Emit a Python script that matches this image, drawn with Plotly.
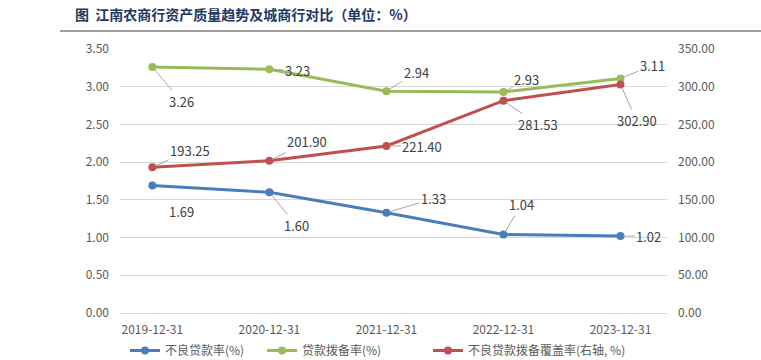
import plotly.graph_objects as go

categories = ["2019-12-31", "2020-12-31", "2021-12-31", "2022-12-31", "2023-12-31"]
npl_ratio = [1.69, 1.60, 1.33, 1.04, 1.02]
provision_ratio = [3.26, 3.23, 2.94, 2.93, 3.11]
coverage_ratio = [193.25, 201.90, 221.40, 281.53, 302.90]

names = ["不良贷款率(%)", "贷款拨备率(%)", "不良贷款拨备覆盖率(右轴, %)"]
colors = ["#4A7EBB", "#9BBB59", "#C0504D"]

# label offsets (pixels) for annotations: (ax, ay)
off_npl = [(29, 26), (27, 33), (47, -14), (18, -30), (28, 0)]
off_prov = [(29, 34), (28, 1), (30, -19), (23, -12), (32, -13)]
off_cov = [(38, -17), (38, -19), (36, 0), (35, 24), (16, 36)]

fig = go.Figure()
font_family = "Noto Sans CJK SC"

fig.add_trace(go.Scatter(x=categories, y=npl_ratio, name=names[0], mode="lines+markers",
                         line=dict(color=colors[0], width=3), marker=dict(size=8, color=colors[0]),
                         legend="legend"))
fig.add_trace(go.Scatter(x=categories, y=provision_ratio, name=names[1], mode="lines+markers",
                         line=dict(color=colors[1], width=3), marker=dict(size=8, color=colors[1]),
                         legend="legend2"))
fig.add_trace(go.Scatter(x=categories, y=coverage_ratio, name=names[2], mode="lines+markers",
                         line=dict(color=colors[2], width=3), marker=dict(size=8, color=colors[2]),
                         yaxis="y2", legend="legend3"))

annotations = []
def add_labels(vals, offs, yref):
    for c, v, (ax, ay) in zip(categories, vals, offs):
        annotations.append(dict(x=c, y=v, xref="x", yref=yref, text=f"{v:.2f}",
                                showarrow=True, arrowhead=0, arrowwidth=1, arrowcolor="#A6A6A6",
                                ax=ax, ay=ay, standoff=3,
                                font=dict(size=13, color="#404040", family=font_family)))

add_labels(npl_ratio, off_npl, "y")
add_labels(provision_ratio, off_prov, "y")
add_labels(coverage_ratio, off_cov, "y2")

annotations.append(dict(x=(73 - 120) / 547, y=(313 - 14) / 264, xref="paper", yref="paper",
                        xanchor="left", yanchor="middle", showarrow=False,
                        text="<b>图  江南农商行资产质量趋势及城商行对比（单位：%）</b>",
                        font=dict(size=14, color="#1F3864", family=font_family)))

def legend_at(px):
    return dict(orientation="h", x=(px - 120) / 547, xanchor="left", y=(313 - 336) / 264, yanchor="top",
                font=dict(size=12, color="#595959"), itemwidth=30, bgcolor="rgba(0,0,0,0)")

fig.update_layout(
    width=761, height=360,
    margin=dict(l=120, r=94, t=49, b=47, autoexpand=False),
    paper_bgcolor="white", plot_bgcolor="white",
    font=dict(family=font_family, size=12, color="#595959"),
    showlegend=True,
    legend=legend_at(125),
    legend2=legend_at(262),
    legend3=legend_at(428),
    annotations=annotations,
    shapes=[dict(type="line", xref="paper", yref="paper",
                 x0=(60 - 120) / 547, x1=(761 - 120) / 547,
                 y0=(313 - 31) / 264, y1=(313 - 31) / 264,
                 line=dict(color="#808080", width=1.5))],
    xaxis=dict(type="category", showgrid=False, showline=True, linecolor="#D9D9D9", ticks="",
               ticklabelstandoff=6, tickfont=dict(size=12, color="#595959")),
    yaxis=dict(range=[0, 3.5], dtick=0.5, tickformat=".2f", showgrid=True, gridcolor="#D9D9D9",
               zeroline=False, ticks="", ticklabelstandoff=10, tickfont=dict(size=12, color="#595959")),
    yaxis2=dict(range=[0, 350], dtick=50, tickformat=".2f", overlaying="y", side="right",
                showgrid=False, zeroline=False, ticks="", ticklabelstandoff=10,
                tickfont=dict(size=12, color="#595959")),
)

fig.write_html("out.html", config={"displayModeBar": False},
               post_script="document.body.style.margin='0';document.body.style.overflow='hidden';")
